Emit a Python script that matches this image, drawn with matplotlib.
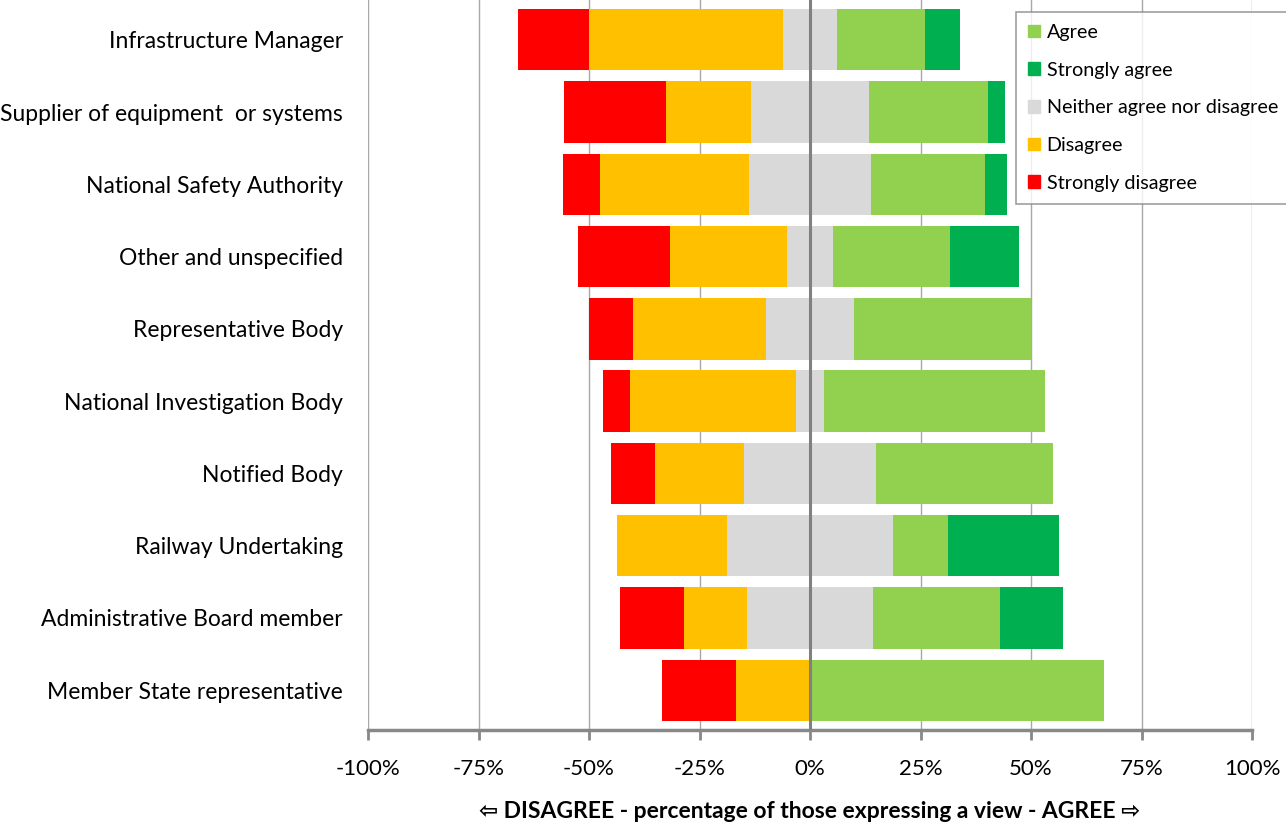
import numpy as np
import matplotlib
matplotlib.use("Agg")
import matplotlib.pyplot as plt
from matplotlib.ticker import FuncFormatter

plt.rcParams['font.family'] = ['Lato', 'DejaVu Sans']

# respondent groups, top to bottom
groups = ["Infrastructure Manager", "Supplier of equipment  or systems",
          "National Safety Authority", "Other and unspecified",
          "Representative Body", "National Investigation Body",
          "Notified Body", "Railway Undertaking",
          "Administrative Board member", "Member State representative"]

# shares of those expressing a view (%)
strongly_disagree = [16.0, 23.1, 8.2, 20.8, 10.0, 6.25, 10.0, 0.0, 14.3, 16.7]
disagree = [44.0, 19.2, 33.9, 26.5, 30.0, 37.5, 20.0, 25.0, 14.3, 16.7]
neutral = [12.0, 26.9, 27.4, 10.4, 20.0, 6.25, 30.0, 37.5, 28.6, 0.0]
agree = [20.0, 26.9, 25.8, 26.5, 40.0, 50.0, 40.0, 12.5, 28.6, 66.6]
strongly_agree = [8.0, 3.8, 5.0, 15.6, 0.0, 0.0, 0.0, 25.0, 14.3, 0.0]

c_sd, c_d, c_n, c_a, c_sa = "#FF0000", "#FFC000", "#D9D9D9", "#92D050", "#00B050"

fig = plt.figure(figsize=(12.86, 8.26), dpi=100)
ax = fig.add_axes([368 / 1286, 1 - 730 / 826, 884 / 1286, 730 / 826])

y = np.arange(len(groups))
sd = np.array(strongly_disagree)
d = np.array(disagree)
n = np.array(neutral)
a = np.array(agree)
sa = np.array(strongly_agree)
h = 0.85

# neutral answers are split evenly around zero
left_n = -n / 2
ax.barh(y, n, left=left_n, height=h, color=c_n, zorder=2)
ax.barh(y, -d, left=left_n, height=h, color=c_d, zorder=2)
ax.barh(y, -sd, left=left_n - d, height=h, color=c_sd, zorder=2)
ax.barh(y, a, left=n / 2, height=h, color=c_a, zorder=2)
ax.barh(y, sa, left=n / 2 + a, height=h, color=c_sa, zorder=2)

ax.set_xlim(-100, 100)
ax.set_ylim(len(groups) - 0.45, -0.55)
ax.set_xticks(np.arange(-100, 101, 25))
ax.xaxis.set_major_formatter(FuncFormatter(lambda v, p: f"{int(v)}%"))
ax.set_yticks(y)
ax.set_yticklabels(groups, fontsize=16.5)
ax.tick_params(axis='y', length=0, pad=18)
ax.tick_params(axis='x', length=7, width=2, color="#888888", labelsize=16, pad=14)

for v in np.arange(-100, 101, 25):
    if v == 0:
        continue
    ax.axvline(v, color="#A8A8A8", lw=1, zorder=1)
ax.axvline(0, color="#808080", lw=2.2, zorder=3)

for s in ["top", "right", "left"]:
    ax.spines[s].set_visible(False)
ax.spines["bottom"].set_color("#888888")
ax.spines["bottom"].set_linewidth(2.5)

ax.set_xlabel("\u21e6 DISAGREE - percentage of those expressing a view - AGREE \u21e8",
              fontsize=16.5, fontweight="bold", labelpad=16)

handles = [plt.Rectangle((0, 0), 1, 1, color=c) for c in [c_a, c_sa, c_n, c_d, c_sd]]
labels = ["Agree", "Strongly agree", "Neither agree nor disagree", "Disagree", "Strongly disagree"]
leg = fig.legend(handles, labels, loc="upper left", bbox_to_anchor=(1016 / 1286, 1 - 12 / 826),
                 fontsize=14.2, frameon=True, fancybox=False, handlelength=0.6, handleheight=0.6,
                 handletextpad=0.35, labelspacing=1.05, borderpad=0.6, borderaxespad=0)
leg.get_frame().set_edgecolor("#888888")
leg.get_frame().set_linewidth(1.2)

fig.savefig("out.png", dpi=100)
